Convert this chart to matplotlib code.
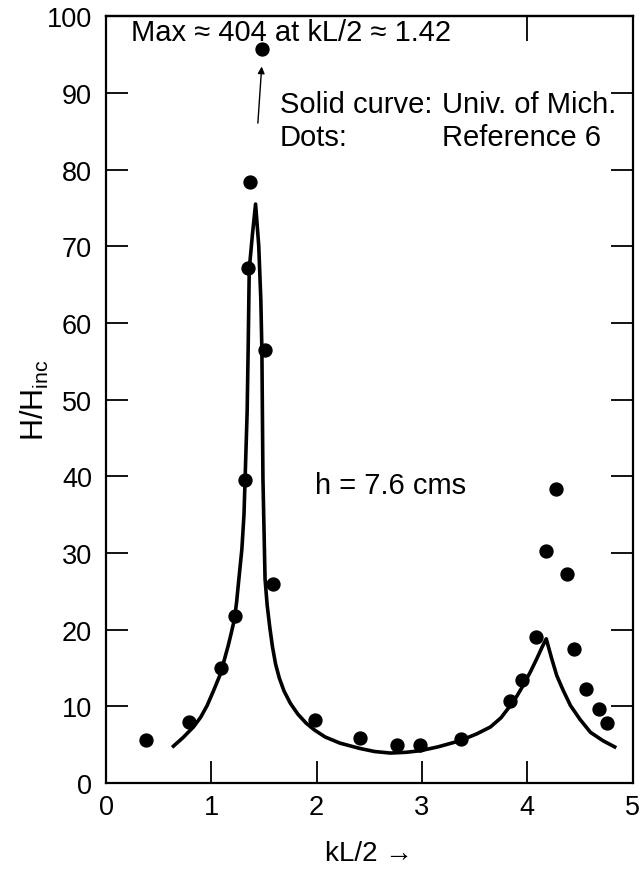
import matplotlib
matplotlib.use("Agg")
import matplotlib.pyplot as plt

plt.rcParams['font.family'] = ['Liberation Sans', 'DejaVu Sans']

# Dots: Reference 6
dot_x = [0.38, 0.79, 1.09, 1.22, 1.32, 1.35, 1.37, 1.48, 1.51, 1.59, 1.98, 2.41, 2.76,
         2.98, 3.37, 3.84, 3.95, 4.08, 4.18, 4.27, 4.38, 4.44, 4.56, 4.68, 4.76]
dot_y = [5.6, 8.0, 15.0, 21.8, 39.5, 67.1, 78.4, 95.7, 56.5, 25.9, 8.2, 5.8, 5.0,
         4.9, 5.7, 10.7, 13.4, 19.0, 30.2, 38.4, 27.3, 17.5, 12.3, 9.7, 7.8]

# Solid curve: Univ. of Mich.
curve_x = [0.64, 0.73, 0.83, 0.90, 0.96, 1.02, 1.08, 1.12, 1.16, 1.19, 1.22, 1.24, 1.26,
           1.29, 1.31, 1.32, 1.34, 1.35, 1.36, 1.39, 1.42, 1.45, 1.47, 1.48, 1.49, 1.51,
           1.53, 1.555, 1.58, 1.61, 1.645, 1.69, 1.75, 1.82, 1.90, 1.98, 2.08, 2.22, 2.41,
           2.55, 2.70, 2.85, 2.98, 3.15, 3.36, 3.52, 3.65, 3.75, 3.84, 3.90, 3.96, 4.03,
           4.09, 4.14, 4.18, 4.23, 4.28, 4.34, 4.41, 4.50, 4.60, 4.72, 4.83]
curve_y = [4.8, 5.9, 7.3, 8.6, 10.1, 12.0, 14.0, 15.9, 17.9, 19.6, 21.4, 23.6, 26.4,
           30.5, 35.0, 39.4, 48.4, 57.0, 67.0, 71.5, 75.5, 70.1, 63.0, 56.4, 39.7, 26.6,
           23.2, 20.3, 17.8, 15.5, 13.7, 12.0, 10.4, 9.0, 7.8, 6.9, 6.0, 5.2, 4.5,
           4.1, 3.9, 4.0, 4.2, 4.7, 5.5, 6.4, 7.3, 8.5, 10.1, 11.3, 12.7, 14.5,
           16.2, 17.7, 18.8, 16.3, 14.0, 12.1, 10.1, 8.3, 6.6, 5.5, 4.7]

x_ticks = [0, 1, 2, 3, 4, 5]
y_ticks = [0, 10, 20, 30, 40, 50, 60, 70, 80, 90, 100]

fig = plt.figure(figsize=(6.41, 8.70), dpi=100)
ax = fig.add_axes([0.1654, 0.0989, 0.8215, 0.8813])

ax.plot(curve_x, curve_y, color='black', lw=2.6, solid_joinstyle='round')
ax.plot(dot_x, dot_y, 'o', color='black', ms=9.3, lw=0)

ax.set_xlim(0, 5)
ax.set_ylim(0, 100)
ax.set_xticks(x_ticks)
ax.set_yticks(y_ticks)
ax.tick_params(axis='both', direction='in', length=16, width=1.3, labelsize=19.5,
               right=True, pad=10, colors='black')
ax.tick_params(axis='x', pad=8)
for s in ax.spines.values():
    s.set_linewidth(1.6)

sec = ax.secondary_xaxis('top')
sec.set_xticks([4])
sec.set_xticklabels([])
sec.tick_params(direction='in', length=18, width=1.3)
sec.spines['top'].set_linewidth(1.6)

ax.set_ylabel('H/H$_{\\mathregular{inc}}$', fontsize=22)
ax.yaxis.set_label_coords(-0.105, 0.5)
ax.set_xlabel('kL/2 \u2192', fontsize=20, labelpad=14)

fs = 21
ax.text(0.24, 98.0, 'Max \u2248 404 at kL/2 \u2248 1.42', fontsize=fs, va='center', ha='left')
ax.annotate('', xy=(1.48, 93.8), xytext=(1.44, 85.7),
            arrowprops=dict(arrowstyle='-|>', color='black', lw=1.0, mutation_scale=10))
ax.text(1.65, 88.5, 'Solid curve:', fontsize=fs, va='center', ha='left')
ax.text(3.19, 88.5, 'Univ. of Mich.', fontsize=fs, va='center', ha='left')
ax.text(1.65, 84.2, 'Dots:', fontsize=fs, va='center', ha='left')
ax.text(3.19, 84.2, 'Reference 6', fontsize=fs, va='center', ha='left')
ax.text(1.98, 38.8, 'h = 7.6 cms', fontsize=fs, va='center', ha='left')

fig.savefig('out.png', dpi=100)
